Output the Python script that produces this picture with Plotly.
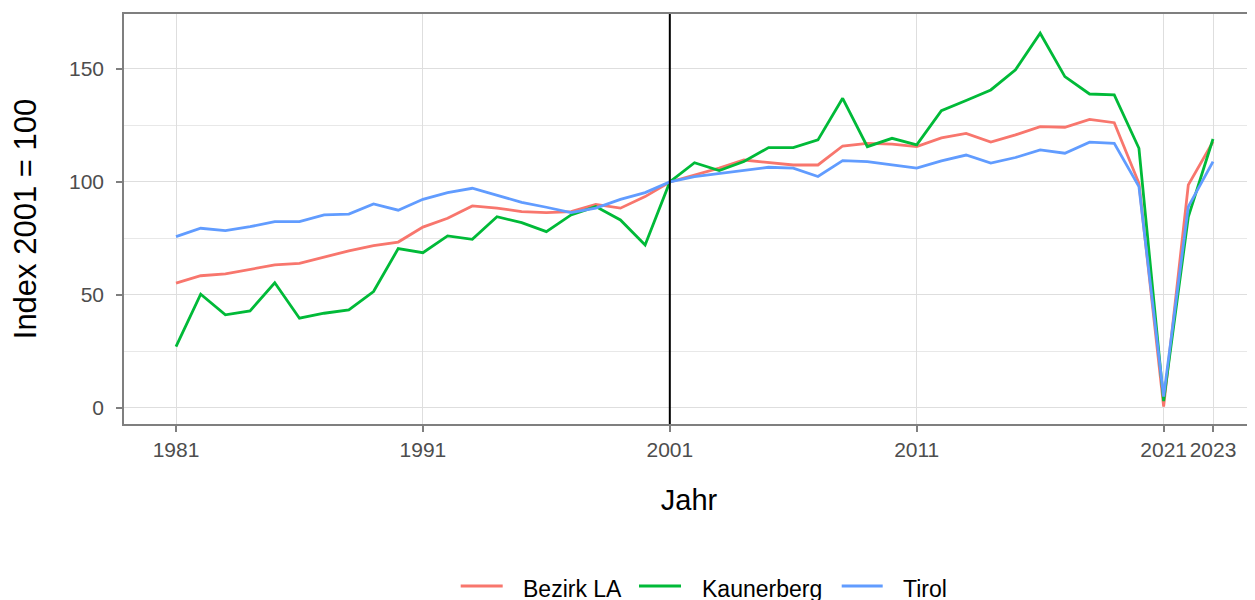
import plotly.graph_objects as go

years = list(range(1981, 2024))

bezirk_la = [55.2, 58.5, 59.3, 61.4, 63.3, 64.0, 66.9, 69.5, 71.8, 73.4,
             80.0, 83.9, 89.4, 88.4, 86.9, 86.4, 86.9, 90.1, 88.4, 93.5,
             100.0, 103.1, 106.1, 109.7, 108.5, 107.5, 107.5, 115.9, 117.1, 116.7,
             115.6, 119.5, 121.5, 117.6, 120.8, 124.5, 124.2, 127.7, 126.2, 99.4,
             0.6, 98.7, 117.8]

kaunerberg = [27.1, 50.3, 41.2, 42.9, 55.4, 39.7, 41.9, 43.4, 51.5, 70.5,
              68.7, 76.1, 74.6, 84.6, 82.0, 78.0, 85.4, 89.1, 83.2, 72.1,
              100.0, 108.5, 105.0, 109.0, 115.2, 115.2, 118.6, 137.0, 115.6, 119.3,
              116.4, 131.5, 136.0, 140.7, 149.6, 165.8, 146.6, 138.9, 138.5, 114.9,
              3.0, 84.6, 119.0]

tirol = [75.8, 79.5, 78.5, 80.2, 82.4, 82.4, 85.4, 85.8, 90.3, 87.5,
         92.3, 95.3, 97.2, 94.2, 91.0, 88.8, 86.4, 88.4, 92.3, 95.3,
         100.0, 102.4, 103.8, 105.3, 106.5, 106.1, 102.4, 109.4, 109.0, 107.5,
         106.1, 109.3, 111.9, 108.3, 110.8, 114.2, 112.7, 117.6, 117.1, 97.9,
         5.0, 89.1, 109.0]

series_names = ["Bezirk LA", "Kaunerberg", "Tirol"]
colors = ["#F8766D", "#00BA38", "#619CFF"]
x_ticks = [1981, 1991, 2001, 2011, 2021, 2023]
y_ticks = [0, 50, 100, 150]
y_minor = [25, 75, 125]
ref_year = 2001

# layout geometry (pixels in figure coordinates)
W, H = 1255, 600
ML, MR, MT, MB = 116, 9, 6, 184
PW, PH = W - ML - MR, H - MT - MB


def px_x(fx):
    return (fx - ML) / PW


def px_y(fy):
    return (H - MB - fy) / PH


fig = go.Figure()
for name, vals, col in zip(series_names, [bezirk_la, kaunerberg, tirol], colors):
    fig.add_trace(go.Scatter(x=years, y=vals, mode="lines", name=name,
                             line=dict(color=col, width=2.8), showlegend=False))

fig.add_shape(type="line", x0=ref_year, x1=ref_year, xref="x", y0=0, y1=1, yref="paper",
              line=dict(color="black", width=2))

font_family = "Liberation Sans, Arial, sans-serif"

# legend drawn at the bottom (key line + label per series)
legend_line_x = [(452.7, 494.7), (631.0, 673.0), (833.7, 874.7)]
legend_text_x = [513.0, 691.7, 893.0]
legend_line_y = 578.0
legend_text_y = 581.0
for name, col, (lx0, lx1), tx in zip(series_names, colors, legend_line_x, legend_text_x):
    fig.add_shape(type="line", xref="paper", yref="paper",
                  x0=px_x(lx0), x1=px_x(lx1), y0=px_y(legend_line_y), y1=px_y(legend_line_y),
                  line=dict(color=col, width=3))
    fig.add_annotation(text=name, xref="paper", yref="paper",
                       x=px_x(tx), y=px_y(legend_text_y), xanchor="left", yanchor="middle",
                       showarrow=False, font=dict(size=23, color="#000000"))

fig.update_layout(
    width=W, height=H,
    paper_bgcolor="white", plot_bgcolor="white",
    margin=dict(l=ML, r=MR, t=MT, b=MB),
    font=dict(family=font_family, color="#000000"),
    showlegend=False,
)
fig.update_xaxes(
    range=[1978.894, 2024.66], tickvals=x_ticks, ticktext=[str(v) for v in x_ticks],
    showgrid=True, gridcolor="#DEDEDE", gridwidth=1,
    ticks="outside", ticklen=6, tickcolor="#7F7F7F", tickwidth=1.5,
    tickfont=dict(size=21, color="#4D4D4D"),
    showline=True, linecolor="#7F7F7F", linewidth=1.5, mirror=True,
    zeroline=False, automargin=False,
    title=dict(text="Jahr", font=dict(size=29, color="#000000"), standoff=30),
)
fig.update_yaxes(
    range=[-7.1, 174.3], tickvals=y_ticks,
    showgrid=True, gridcolor="#DEDEDE", gridwidth=1,
    minor=dict(tickvals=y_minor, showgrid=True, gridcolor="#E8E8E8", gridwidth=0.8, ticklen=0),
    ticks="outside", ticklen=6, tickcolor="#7F7F7F", tickwidth=1.5,
    tickfont=dict(size=21, color="#4D4D4D"),
    ticklabelstandoff=8,
    showline=True, linecolor="#7F7F7F", linewidth=1.5, mirror=True,
    zeroline=False, automargin=False,
    title=dict(text="Index 2001 = 100", font=dict(size=31, color="#000000"), standoff=25),
)

fig.write_html("out.html")
